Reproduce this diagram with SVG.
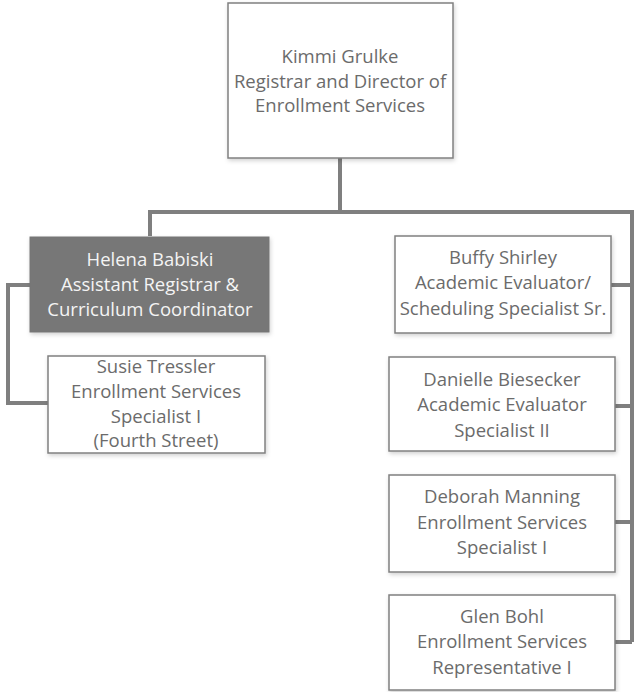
<svg xmlns="http://www.w3.org/2000/svg" width="635" height="692" viewBox="0 0 635 692">
<defs>
<filter id="sh" x="-10%" y="-10%" width="125%" height="130%">
<feDropShadow dx="1" dy="2" stdDeviation="2" flood-color="#000" flood-opacity="0.18"/>
</filter>
<style>
.box{fill:#ffffff;stroke:#808080;stroke-width:1.5;filter:url(#sh)}
.dark{fill:#777777;stroke:#777777;stroke-width:1;filter:url(#sh)}
.t{font-family:"Open Sans","Liberation Sans",Arial,sans-serif;font-size:18.5px;fill:#6b6b6b;text-anchor:middle}
.tw{fill:#f4f4f4}
.c{fill:none;stroke:#7f7f7f;stroke-width:4}
</style>
</defs>
<rect width="635" height="692" fill="#ffffff"/>
<g id="connectors">
<path class="c" d="M340 158 V211"/>
<path class="c" d="M150 236 V212 H632 V642"/>
<path class="c" d="M611 285 H632"/>
<path class="c" d="M615 406 H632"/>
<path class="c" d="M615 522 H632"/>
<path class="c" d="M615 642 H632"/>
<path class="c" d="M30 285 H8 V403 H48"/>
</g>
<g id="kimmi">
<rect class="box" x="228" y="3" width="225" height="155"/>
<text class="t" x="340" y="63">Kimmi Grulke</text>
<text class="t" x="340" y="88">Registrar and Director of</text>
<text class="t" x="340" y="112">Enrollment Services</text>
</g>
<g id="helena">
<rect class="dark" x="30" y="237" width="239" height="95"/>
<text class="t tw" x="150" y="266">Helena Babiski</text>
<text class="t tw" x="150" y="291">Assistant Registrar &amp;</text>
<text class="t tw" x="150" y="316">Curriculum Coordinator</text>
</g>
<g id="susie">
<rect class="box" x="48" y="356" width="217" height="97"/>
<text class="t" x="156" y="373">Susie Tressler</text>
<text class="t" x="156" y="398">Enrollment Services</text>
<text class="t" x="156" y="423">Specialist I</text>
<text class="t" x="156" y="447">(Fourth Street)</text>
</g>
<g id="buffy">
<rect class="box" x="395" y="236" width="216" height="97"/>
<text class="t" x="503" y="264">Buffy Shirley</text>
<text class="t" x="503" y="289">Academic Evaluator/</text>
<text class="t" x="503" y="315">Scheduling Specialist Sr.</text>
</g>
<g id="danielle">
<rect class="box" x="389" y="357" width="226" height="94"/>
<text class="t" x="502" y="386">Danielle Biesecker</text>
<text class="t" x="502" y="411">Academic Evaluator</text>
<text class="t" x="502" y="437">Specialist II</text>
</g>
<g id="deborah">
<rect class="box" x="389" y="475" width="226" height="97"/>
<text class="t" x="502" y="503">Deborah Manning</text>
<text class="t" x="502" y="529">Enrollment Services</text>
<text class="t" x="502" y="554">Specialist I</text>
</g>
<g id="glen">
<rect class="box" x="389" y="595" width="226" height="95"/>
<text class="t" x="502" y="623">Glen Bohl</text>
<text class="t" x="502" y="648">Enrollment Services</text>
<text class="t" x="502" y="674">Representative I</text>
</g>
</svg>
